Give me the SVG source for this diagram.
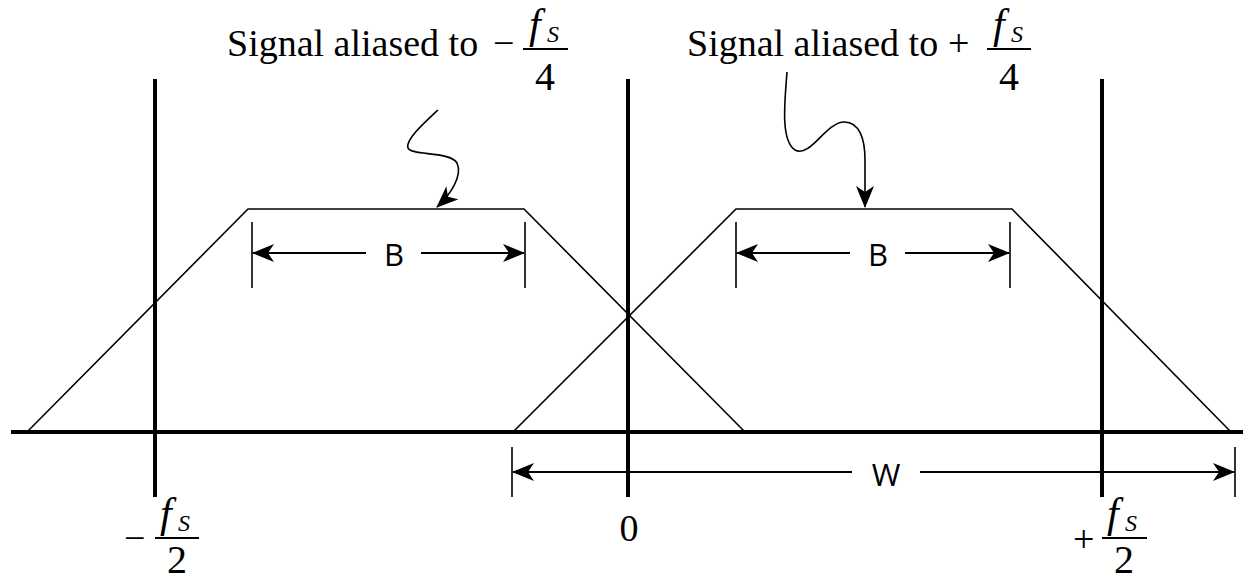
<svg xmlns="http://www.w3.org/2000/svg" width="1243" height="582" viewBox="0 0 1243 582">
<style>
.tm{font-family:"Liberation Serif","Times New Roman",serif;font-size:38px;fill:#000}
.dn{font-family:"Liberation Serif","Times New Roman",serif;font-size:40px;fill:#000}
.it{font-family:"Liberation Serif","Times New Roman",serif;font-style:italic;fill:#000}
.sn{font-family:"Open Sans","Liberation Sans",sans-serif;font-size:31px;fill:#000}
.ax{stroke:#000;stroke-width:4;fill:none}
.th{stroke:#000;stroke-width:1.6;fill:none}
.dim{stroke:#000;stroke-width:2;fill:none}
.bar{stroke:#000;stroke-width:2}
</style>
<defs>
<marker id="ah" markerUnits="userSpaceOnUse" markerWidth="22" markerHeight="18" viewBox="0 0 22 18" refX="21" refY="9" orient="auto-start-reverse">
<path d="M0,0 L22,9 L0,18 L6,9 Z" fill="#000"/>
</marker>
</defs>
<rect width="1243" height="582" fill="#fff"/>
<g id="axes">
<line class="ax" x1="11" y1="432" x2="1243" y2="432"/>
<line class="ax" x1="155" y1="79" x2="155" y2="497"/>
<line class="ax" x1="628" y1="79" x2="628" y2="497"/>
<line class="ax" x1="1102" y1="79" x2="1102" y2="497"/>
</g>
<g id="spectrum-left">
<polyline class="th" points="27,432 248,209 524,209 745,432"/>
</g>
<g id="spectrum-right">
<polyline class="th" points="513,432 736,209 1012,209 1231,432"/>
</g>
<g id="connectors">
<line class="th" x1="252" y1="222" x2="252" y2="288"/>
<line class="th" x1="525" y1="222" x2="525" y2="288"/>
<line class="dim" x1="366" y1="253" x2="253" y2="253" marker-end="url(#ah)"/>
<line class="dim" x1="421" y1="253" x2="524" y2="253" marker-end="url(#ah)"/>
<line class="th" x1="736" y1="222" x2="736" y2="288"/>
<line class="th" x1="1010" y1="222" x2="1010" y2="288"/>
<line class="dim" x1="850" y1="253" x2="737" y2="253" marker-end="url(#ah)"/>
<line class="dim" x1="905" y1="253" x2="1009" y2="253" marker-end="url(#ah)"/>
<line class="th" x1="512" y1="447" x2="512" y2="497"/>
<line class="th" x1="1235" y1="447" x2="1235" y2="497"/>
<line class="dim" x1="852" y1="472" x2="513" y2="472" marker-end="url(#ah)"/>
<line class="dim" x1="920" y1="472" x2="1234" y2="472" marker-end="url(#ah)"/>
<path class="th" d="M438,110 C425,122 405,140 408,148 C411,156 450,151 457,163 C463,176 450,195 437,207" marker-end="url(#ah)"/>
<path class="th" d="M787,72 C785,100 780,140 795,150 C810,158 825,124 843,122 C860,121 865,140 865,160 L865,207" marker-end="url(#ah)"/>
</g>
<g id="label-B-left"><text class="sn" x="394" y="266" text-anchor="middle">B</text></g>
<g id="label-B-right"><text class="sn" x="878" y="266" text-anchor="middle">B</text></g>
<g id="label-W"><text class="sn" x="886" y="486" text-anchor="middle">W</text></g>
<g id="label-alias-neg">
<text class="tm" x="227" y="56">Signal aliased to</text>
<text class="tm" x="493" y="56">−</text>
<line class="bar" x1="523" y1="49" x2="568" y2="49"/>
<text class="it" x="529" y="38" font-size="42">f</text>
<text class="it" x="547" y="42" font-size="24">S</text>
<text class="dn" x="545" y="90" text-anchor="middle">4</text>
</g>
<g id="label-alias-pos">
<text class="tm" x="687" y="56">Signal aliased to</text>
<text class="tm" x="948" y="56">+</text>
<line class="bar" x1="987" y1="49" x2="1031" y2="49"/>
<text class="it" x="993" y="38" font-size="42">f</text>
<text class="it" x="1011" y="42" font-size="24">S</text>
<text class="dn" x="1009" y="90" text-anchor="middle">4</text>
</g>
<g id="label-neg-half">
<text class="tm" x="124" y="551">−</text>
<line class="bar" x1="155" y1="538" x2="199" y2="538"/>
<text class="it" x="160" y="527" font-size="42">f</text>
<text class="it" x="178" y="531" font-size="24">S</text>
<text class="dn" x="177" y="573" text-anchor="middle">2</text>
</g>
<g id="label-zero"><text class="tm" x="629" y="541" text-anchor="middle">0</text></g>
<g id="label-pos-half">
<text class="tm" x="1073" y="552">+</text>
<line class="bar" x1="1102" y1="538" x2="1147" y2="538"/>
<text class="it" x="1107" y="527" font-size="42">f</text>
<text class="it" x="1125" y="531" font-size="24">S</text>
<text class="dn" x="1124" y="573" text-anchor="middle">2</text>
</g>
</svg>
